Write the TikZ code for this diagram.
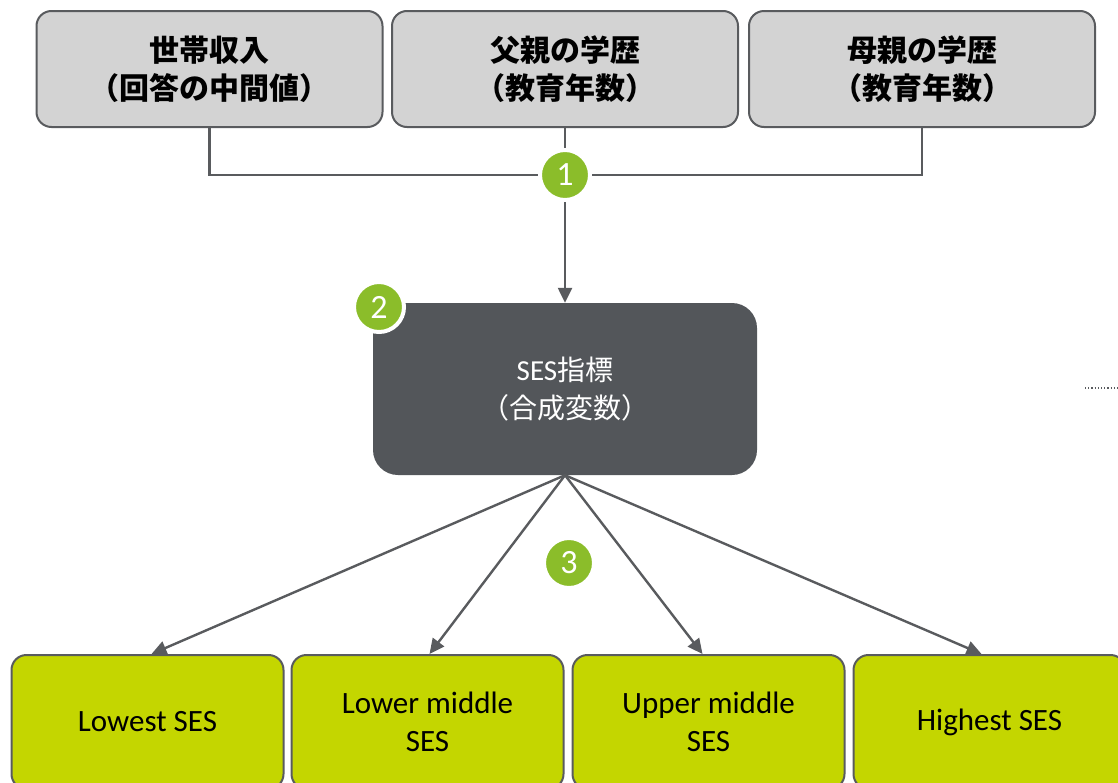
\documentclass[tikz,border=0pt]{standalone}
\usepackage{fontspec}
\setmainfont{Carlito}
\newfontfamily\cjk{Noto Sans CJK JP}
\usetikzlibrary{arrows.meta}
\definecolor{boxgray}{HTML}{D3D3D3}
\definecolor{linegray}{HTML}{595B5E}
\definecolor{darkbox}{HTML}{53565A}
\definecolor{limebox}{HTML}{C4D600}
\definecolor{numgreen}{HTML}{8BBD2A}
\tikzset{
  topbox/.style={draw=linegray, line width=2pt, fill=boxgray, rounded corners=15pt,
    minimum width=346pt, minimum height=116pt, align=center, inner sep=0pt,
    font=\fontsize{30}{38}\selectfont\cjk\bfseries},
  sesbox/.style={fill=darkbox, rounded corners=25pt, minimum width=384pt, minimum height=172pt,
    align=center, text=white, inner sep=0pt, font=\fontsize{28}{38}\selectfont\cjk},
  grpbox/.style={draw=linegray, line width=2pt, fill=limebox, rounded corners=15pt,
    minimum width=272pt, minimum height=134pt, align=center, inner sep=0pt,
    font=\fontsize{31}{38}\selectfont},
  numc/.style={circle, fill=numgreen, draw=white, line width=4pt, minimum size=50pt, inner sep=0pt,
    text=white, font=\fontsize{34}{34}\selectfont},
  conn/.style={draw=linegray, line width=2.4pt},
  arr/.style={conn, -{Triangle[length=15pt,width=14pt]}}
}
\begin{document}
\begin{tikzpicture}[x=1pt,y=-1pt]
\useasboundingbox (0,0) rectangle (1118,782);
\clip (0,0) rectangle (1118,782);
\node[topbox] (b1) at (209.5,69) {世帯収入\\（回答の中間値）};
\node[topbox] (b2) at (565,69) {父親の学歴\\（教育年数）};
\node[topbox] (b3) at (922,69) {母親の学歴\\（教育年数）};
\node[sesbox] (ses) at (565,389) {{\fontsize{29}{38}\selectfont\rmfamily SES}指標\\（合成変数）};
\node[grpbox] (g1) at (147.5,722) {Lowest SES};
\node[grpbox] (g2) at (427.5,722) {Lower middle\\SES};
\node[grpbox] (g3) at (708.5,722) {Upper middle\\SES};
\node[grpbox] (g4) at (989.5,722) {Highest SES};
\coordinate (p1) at (565,175);
\draw[conn] (b1.south) |- (p1) -| (b3.south);
\draw[conn] (b2.south) -- (p1);
\node[numc] (c1) at (p1) {1};
\draw[arr] (c1) -- (ses.north);
\node[numc] (c2) at (379,307) {2};
\node[numc] (c3) at (569,563) {3};
\draw[arr] (ses.south) -- ([xshift=4pt]g1.north);
\draw[arr] (ses.south) -- ([xshift=2pt]g2.north);
\draw[arr] (ses.south) -- ([xshift=-6pt]g3.north);
\draw[arr] (ses.south) -- ([xshift=-8pt]g4.north);
\coordinate (d1) at (1085,388);
\coordinate (d2) at (1118,388);
\draw[draw=linegray, line width=1.2pt, dotted] (d1) -- (d2);
\end{tikzpicture}
\end{document}
